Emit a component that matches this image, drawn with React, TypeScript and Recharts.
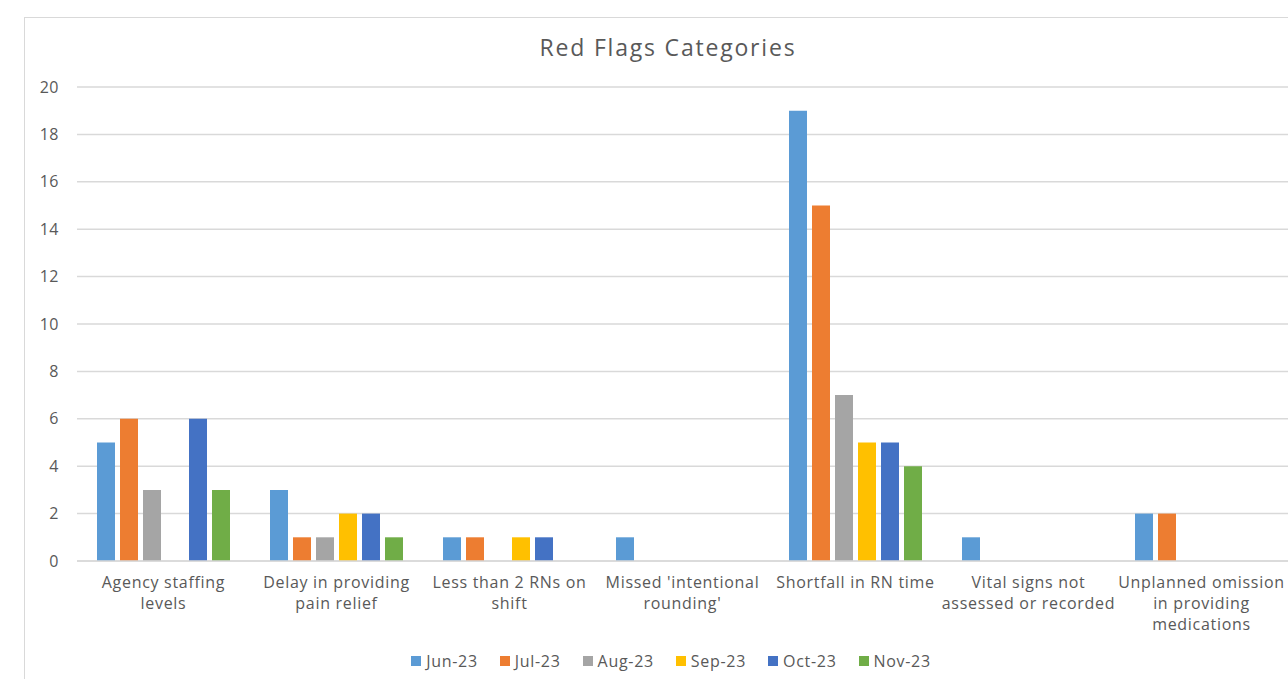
import { BarChart, Bar, XAxis, YAxis, CartesianGrid } from 'recharts';

const categories = [
  'Agency staffing levels',
  'Delay in providing pain relief',
  'Less than 2 RNs on shift',
  "Missed 'intentional rounding'",
  'Shortfall in RN time',
  'Vital signs not assessed or recorded',
  'Unplanned omission in providing medications',
];

// tick labels wrapped the way the original draws them
const tickLines = [
  ['Agency staffing', 'levels'],
  ['Delay in providing', 'pain relief'],
  ['Less than 2 RNs on', 'shift'],
  ["Missed 'intentional", "rounding'"],
  ['Shortfall in RN time'],
  ['Vital signs not', 'assessed or recorded'],
  ['Unplanned omission', 'in providing', 'medications'],
];

const months = ['Jun-23', 'Jul-23', 'Aug-23', 'Sep-23', 'Oct-23', 'Nov-23'];
const COLORS = ['#5B9BD5', '#ED7D31', '#A5A5A5', '#FFC000', '#4472C4', '#70AD47'];

const jun = [5, 3, 1, 1, 19, 1, 2];
const jul = [6, 1, 1, 0, 15, 0, 2];
const aug = [3, 1, 0, 0, 7, 0, 0];
const sep = [0, 2, 1, 0, 5, 0, 0];
const oct = [6, 2, 1, 0, 5, 0, 0];
const nov = [3, 1, 0, 0, 4, 0, 0];

const yTicks = [0, 2, 4, 6, 8, 10, 12, 14, 16, 18, 20];

const series = [jun, jul, aug, sep, oct, nov];

const data = categories.map((name, i) => {
  const row: Record<string, string | number> = { name };
  months.forEach((m, s) => {
    row[m] = series[s][i];
  });
  return row;
});

const FONT = '"Open Sans", sans-serif';
const TEXT = '#595959';

function CategoryTick(props: any) {
  const { x, y, payload } = props;
  const lines = tickLines[payload.index] || [payload.value];
  return (
    <text
      x={x}
      y={y}
      textAnchor="middle"
      fill={TEXT}
      fontSize={16}
      fontFamily={FONT}
      letterSpacing={0.7}
    >
      {lines.map((line, i) => (
        <tspan key={i} x={x} dy={i === 0 ? 19 : 21}>
          {line}
        </tspan>
      ))}
    </text>
  );
}

export default function App() {
  return (
    <div
      style={{
        position: 'fixed',
        left: 0,
        top: 0,
        width: 1288,
        height: 679,
        overflow: 'hidden',
        background: '#fff',
        fontFamily: FONT,
      }}
    >
      <div
        style={{
          position: 'absolute',
          left: 24,
          top: 17,
          width: 1300,
          height: 700,
          border: '1px solid #d9d9d9',
        }}
      />
      <div
        style={{
          position: 'absolute',
          left: 24,
          top: 32,
          width: 1288,
          textAlign: 'center',
          fontSize: 23,
          letterSpacing: 1.8,
          color: TEXT,
          lineHeight: '30px',
        }}
      >
        Red Flags Categories
      </div>
      <div style={{ position: 'absolute', left: 0, top: 0 }}>
        <BarChart
          width={1288}
          height={679}
          data={data}
          margin={{ top: 87, right: 0, left: 0, bottom: 0 }}
          barCategoryGap={20}
          barGap={5}
        >
          <CartesianGrid vertical={false} stroke="#d9d9d9" strokeWidth={1.5} />
          <XAxis
            dataKey="name"
            interval={0}
            tickLine={false}
            axisLine={{ stroke: '#d9d9d9', strokeWidth: 1.5 }}
            tick={<CategoryTick />}
            height={118}
          />
          <YAxis
            domain={[0, 20]}
            ticks={yTicks}
            width={77}
            tickLine={false}
            axisLine={false}
            tickMargin={12}
            tick={{ fill: TEXT, fontSize: 16, fontFamily: FONT, letterSpacing: 0.5 }}
          />
          {months.map((m, i) => (
            <Bar key={m} dataKey={m} fill={COLORS[i]} isAnimationActive={false} />
          ))}
        </BarChart>
      </div>
      <div
        style={{
          position: 'absolute',
          left: 0,
          top: 650,
          width: 1342,
          display: 'flex',
          justifyContent: 'center',
          gap: 22,
          fontSize: 16,
          letterSpacing: 0.7,
          color: TEXT,
          lineHeight: '22px',
        }}
      >
        {months.map((m, i) => (
          <div key={m} style={{ display: 'flex', alignItems: 'center', gap: 5 }}>
            <span style={{ width: 10, height: 10, background: COLORS[i], display: 'inline-block' }} />
            <span>{m}</span>
          </div>
        ))}
      </div>
    </div>
  );
}
